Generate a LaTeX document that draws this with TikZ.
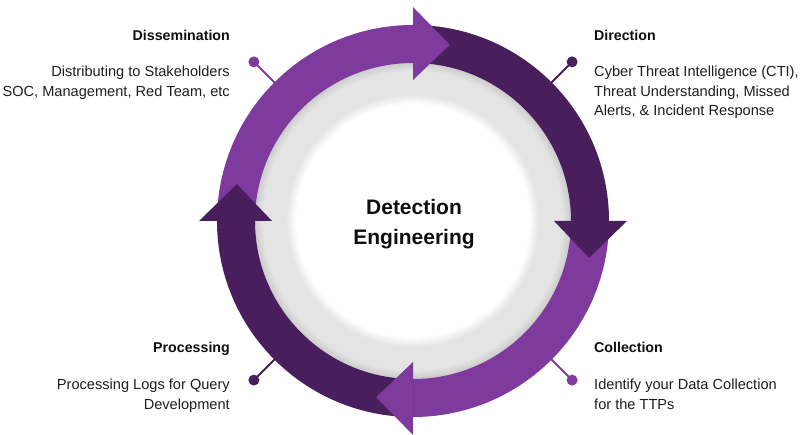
\documentclass[tikz,border=0pt]{standalone}
\usepackage{fontspec}
\setmainfont{Liberation Sans}

\definecolor{lightp}{RGB}{126,58,156}
\definecolor{darkp}{RGB}{72,31,92}
\definecolor{ringgray}{RGB}{228,228,228}
\definecolor{ringshadow}{RGB}{200,200,200}
\definecolor{bodytext}{RGB}{30,30,30}
\definecolor{titletext}{RGB}{15,15,15}

\tikzset{
  pindot/.style={circle, inner sep=0pt, minimum size=11pt},
  pinline/.style={line width=2pt},
  steptitle/.style={inner sep=0pt, font=\fontsize{14.2}{17}\selectfont\bfseries, text=titletext},
  stepdesc/.style={inner sep=0pt, font=\fontsize{14.6}{19.5}\selectfont, text=bodytext},
  centertext/.style={inner sep=0pt, font=\fontsize{21}{30}\selectfont\bfseries, text=titletext}
}

\begin{document}
\begin{tikzpicture}[x=1pt,y=1pt]
\useasboundingbox (0,0) rectangle (808,435);
\fill[white] (0,0) rectangle (808,435);

\begin{scope}[shift={(413,214)}]
  % grey ring: soft shadow under the band fading into flat grey
  \foreach \k in {0,...,9}{
    \pgfmathsetmacro{\shadepct}{10*\k}
    \fill[ringgray!\shadepct!ringshadow] (0,0) circle[radius={160pt-\k*1pt}];
  }
  \fill[ringgray] (0,0) circle[radius=150pt];
  % white core fading into the grey at its rim
  \foreach \k in {0,...,10}{
    \pgfmathsetmacro{\shadepct}{10*\k}
    \fill[white!\shadepct!ringgray] (0,0) circle[radius={127pt-\k*1pt}];
  }

  % pin dots and their leader lines into the band
  \node[pindot, fill=lightp] (pinTL) at (135:225pt) {};
  \node[pindot, fill=darkp]  (pinTR) at (45:225pt) {};
  \node[pindot, fill=lightp] (pinBR) at (-45:225pt) {};
  \node[pindot, fill=darkp]  (pinBL) at (-135:225pt) {};
  \coordinate (endTL) at (135:185pt);
  \coordinate (endTR) at (45:185pt);
  \coordinate (endBR) at (-45:185pt);
  \coordinate (endBL) at (-135:185pt);
  \draw[pinline, lightp] (pinTL.center) -- (endTL);
  \draw[pinline, darkp]  (pinTR.center) -- (endTR);
  \draw[pinline, lightp] (pinBR.center) -- (endBR);
  \draw[pinline, darkp]  (pinBL.center) -- (endBL);

  % band segments of the cycle
  \fill[lightp] (180:196pt) arc[start angle=180, end angle=90, radius=196pt]
     -- (90:158pt) arc[start angle=90, end angle=180, radius=158pt] -- cycle;
  \fill[darkp] (90:196pt) arc[start angle=90, end angle=0, radius=196pt]
     -- (0:158pt) arc[start angle=0, end angle=90, radius=158pt] -- cycle;
  \fill[lightp] (0:196pt) arc[start angle=0, end angle=-90, radius=196pt]
     -- (-90:158pt) arc[start angle=-90, end angle=0, radius=158pt] -- cycle;
  \fill[darkp] (-90:196pt) arc[start angle=-90, end angle=-180, radius=196pt]
     -- (-180:158pt) arc[start angle=-180, end angle=-90, radius=158pt] -- cycle;

  % arrow heads, each lying over the start of the next segment
  \fill[lightp] (90:141pt) -- (90:214pt) -- (78.2:180pt) -- cycle;
  \fill[darkp]  (0:141pt) -- (0:214pt) -- (-11.8:180pt) -- cycle;
  \fill[lightp] (-90:141pt) -- (-90:214pt) -- (-101.8:180pt) -- cycle;
  \fill[darkp]  (180:141pt) -- (180:214pt) -- (168.2:180pt) -- cycle;

  % centre label
  \node[centertext, anchor=base] (center) at (1,6)
    {\begin{tabular}[t]{@{}c@{}}Detection\\Engineering\end{tabular}};
\end{scope}

% step labels
\node[steptitle, anchor=base east] (dissT) at (230,394) {Dissemination};
\node[stepdesc, anchor=base east] (dissD) at (230,358)
  {\begin{tabular}[t]{@{}r@{}}Distributing to Stakeholders\\SOC, Management, Red Team, etc\end{tabular}};

\node[steptitle, anchor=base west] (dirT) at (594,394) {Direction};
\node[stepdesc, anchor=base west] (dirD) at (594,358)
  {\begin{tabular}[t]{@{}l@{}}Cyber Threat Intelligence (CTI),\\Threat Understanding, Missed\\Alerts, \& Incident Response\end{tabular}};

\node[steptitle, anchor=base east] (procT) at (230,82) {Processing};
\node[stepdesc, anchor=base east] (procD) at (230,45)
  {\begin{tabular}[t]{@{}r@{}}Processing Logs for Query\\Development\end{tabular}};

\node[steptitle, anchor=base west] (collT) at (594,82) {Collection};
\node[stepdesc, anchor=base west] (collD) at (594,45)
  {\begin{tabular}[t]{@{}l@{}}Identify your Data Collection\\for the TTPs\end{tabular}};
\end{tikzpicture}
\end{document}
